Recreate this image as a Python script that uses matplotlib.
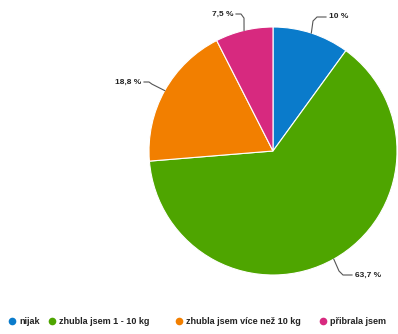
import numpy as np
import matplotlib.pyplot as plt

labels = ['nijak', 'zhubla jsem 1 - 10 kg', 'zhubla jsem více než 10 kg', 'přibrala jsem']
values = [10.0, 63.7, 18.8, 7.5]
colors = ['#0a7bcb', '#4ea500', '#f27f00', '#d7297f']

plt.rcParams['font.family'] = ['Liberation Sans', 'DejaVu Sans']

W, H = 398, 334
fig = plt.figure(figsize=(W / 100, H / 100), dpi=100)
ax = fig.add_axes([0, 0, 1, 1])

cx, cy, r = 273, H - 151, 124
wedges, _ = ax.pie(values, colors=colors, startangle=90, counterclock=False,
                   center=(cx, cy), radius=r, frame=True,
                   wedgeprops=dict(edgecolor='white', linewidth=0.8))
ax.set_xlim(0, W)
ax.set_ylim(0, H)
ax.axis('off')

# label anchor points (pixel coords from top) and side of the text
label_pos = [(329, 17, 'left'), (355, 275, 'left'), (141, 82, 'right'), (233, 14, 'right')]
for w, v, (tx, ty, side) in zip(wedges, values, label_pos):
    ang = np.deg2rad((w.theta1 + w.theta2) / 2)
    ex, ey = cx + r * np.cos(ang), cy + r * np.sin(ang)
    ty = H - ty
    knee_x = tx - 12 if side == 'left' else tx + 8
    ax.plot([ex, knee_x - 4 if side == 'left' else knee_x + 3, knee_x, tx - 3 if side == 'left' else tx + 3],
            [ey, ty + (ey - ty) * 0.25, ty, ty], color='#555555', lw=0.8)
    txt = ('%.1f' % v).replace('.', ',').replace(',0', '') + ' %'
    ax.text(tx, ty, txt, ha=side, va='center', fontsize=6, fontweight='bold', color='#222222')

# legend row
leg_x = [12, 52, 179, 323]
for x, lab, c in zip(leg_x, labels, colors):
    ax.plot(x, H - 321, 'o', color=c, ms=5.5, mec='none')
    ax.text(x + 7, H - 321, lab, ha='left', va='center', fontsize=6.5, fontweight='bold', color='#222222')

fig.savefig('out.png', dpi=100)
